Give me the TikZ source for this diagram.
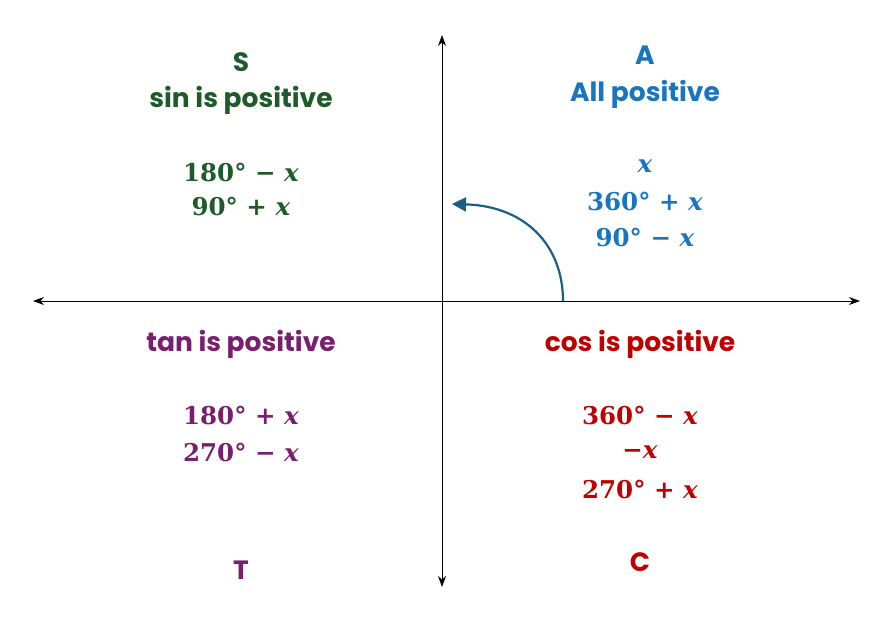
\documentclass[tikz,border=0pt]{standalone}
\usepackage{fontspec}
\setmainfont{Poppins}
\newfontfamily\mser{DejaVu Serif}
\usetikzlibrary{arrows.meta}
\definecolor{sgreen}{HTML}{1E5B2B}
\definecolor{ablue}{HTML}{1A75C0}
\definecolor{tpurple}{HTML}{7A1F6E}
\definecolor{cred}{HTML}{C00000}
\definecolor{arcblue}{HTML}{1B5F82}
\newcommand{\vx}{\textit{x}}
\tikzset{
  lbl/.style={font=\fontsize{26.5}{30}\selectfont\bfseries, inner sep=0pt, anchor=center},
  mth/.style={font=\fontsize{24.5}{28}\selectfont\mser\bfseries, inner sep=0pt, anchor=center},
  axis/.style={line width=0.9pt, {Stealth[length=11pt,width=8pt]}-{Stealth[length=11pt,width=8pt]}},
}
\begin{document}
\begin{tikzpicture}[x=1pt,y=-1pt]
\useasboundingbox (0,0) rectangle (878,626);
\coordinate (L) at (33,301);
\coordinate (R) at (860,301);
\coordinate (T) at (442,35);
\coordinate (B) at (442,587);
\draw[axis] (L) -- (R);
\draw[axis] (B) -- (T);
\coordinate (as) at (563,301);
\coordinate (ae) at (452,204);
\draw[arcblue, line width=2.2pt, -{Triangle[length=14pt,width=14pt]}] (as) .. controls (563,245) and (525,206) .. (ae);
% Quadrant S
\node[lbl, sgreen] (s1) at (241,62) {S};
\node[lbl, sgreen] (s2) at (241,100) {sin is positive};
\node[mth, sgreen] (s3) at (241,172) {180° − \vx};
\node[mth, sgreen] (s4) at (241,206) {90° + \vx};
% Quadrant A
\node[lbl, ablue] (a1) at (645,55) {A};
\node[lbl, ablue] (a2) at (645,94) {All positive};
\node[mth, ablue] (a3) at (645,166) {\vx};
\node[mth, ablue] (a4) at (645,201) {360° + \vx};
\node[mth, ablue] (a5) at (645,237) {90° − \vx};
% Quadrant T
\node[lbl, tpurple] (t1) at (241,344) {tan is positive};
\node[mth, tpurple] (t2) at (241,415) {180° + \vx};
\node[mth, tpurple] (t3) at (241,452) {270° − \vx};
\node[lbl, tpurple] (t4) at (241,570) {T};
% Quadrant C
\node[lbl, cred] (c1) at (640,344) {cos is positive};
\node[mth, cred] (c2) at (640,415) {360° − \vx};
\node[mth, cred] (c3) at (640,452) {−\vx};
\node[mth, cred] (c4) at (640,489) {270° + \vx};
\node[lbl, cred] (c5) at (640,562) {C};
\end{tikzpicture}
\end{document}
